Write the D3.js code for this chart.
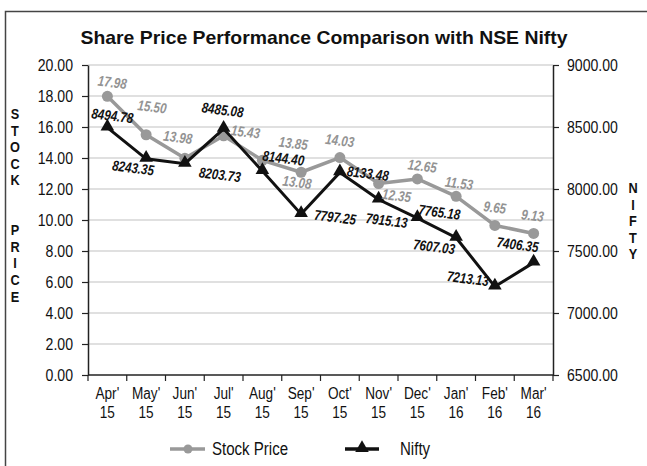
<!DOCTYPE html>
<html>
<head>
<meta charset="utf-8">
<script src="https://cdn.jsdelivr.net/npm/d3@7"></script>
<style>
  body { margin: 0; background: #fff; }
  svg { display: block; }
  text { font-family: "Liberation Sans", Arial, sans-serif; }
</style>
</head>
<body>
<div id="chart"></div>
<script>
// data
var months = ["Apr' 15", "May' 15", "Jun' 15", "Jul' 15", "Aug' 15", "Sep' 15",
              "Oct' 15", "Nov' 15", "Dec' 15", "Jan' 16", "Feb' 16", "Mar' 16"];
var stockPrice = [17.98, 15.50, 13.98, 15.43, 13.85, 13.08, 14.03, 12.35, 12.65, 11.53, 9.65, 9.13];
var nifty = [8494.78, 8243.35, 8203.73, 8485.08, 8144.40, 7797.25, 8133.48, 7915.13, 7765.18, 7607.03, 7213.13, 7406.35];
var leftTicks = [0, 2, 4, 6, 8, 10, 12, 14, 16, 18, 20];
var rightTicks = [6500, 7000, 7500, 8000, 8500, 9000];

// where each data label sits relative to its point (placed by hand, like in excel)
var stockLabelOffset = [[5,-14],[6,-28],[-7,-21],[22,-4],[31,-17],[-4,10],[0,-17],[18,12],[5,-13],[3,-13],[0,-18],[-1,-18]];
var niftyLabelOffset = [[5,-12],[-13,9],[35,11],[-1,-19],[21,-13],[34,3],[28,1],[8,21],[22,-6],[-22,9],[-27,-8],[-16,-18]];

function drawChart() {
    var width = 647, height = 466;
    var pLeft = 88, pRight = 553, pTop = 65, pBottom = 375;
    var gray = "#999999";

    // the reference font is a condensed grotesque, squeeze liberation sans a bit
    function condense(sel, k) {
        sel.each(function () {
            var w = this.getComputedTextLength();
            d3.select(this).attr("textLength", w * k).attr("lengthAdjust", "spacingAndGlyphs");
        });
    }

    var svg = d3.select("#chart").append("svg")
        .attr("width", width)
        .attr("height", height);

    // outer frame (runs off the right and bottom edge)
    svg.append("path")
        .attr("d", "M5.5," + height + "V11.5H" + width)
        .attr("fill", "none")
        .attr("stroke", "#444")
        .attr("stroke-width", 1.5);

    svg.append("text")
        .attr("x", 324)
        .attr("y", 44)
        .attr("text-anchor", "middle")
        .style("font-weight", "bold")
        .style("font-size", "19px")
        .attr("fill", "#111")
        .attr("textLength", 487)
        .attr("lengthAdjust", "spacingAndGlyphs")
        .text("Share Price Performance Comparison with NSE Nifty");

    var x = d3.scaleBand().domain(months).range([pLeft, pRight]);
    var yL = d3.scaleLinear().domain([0, 20]).range([pBottom, pTop]);
    var yR = d3.scaleLinear().domain([6500, 9000]).range([pBottom, pTop]);

    // gridlines
    svg.append("g")
        .selectAll("line")
        .data(leftTicks.slice(1))
        .enter()
        .append("line")
        .attr("x1", pLeft)
        .attr("x2", pRight)
        .attr("y1", function (d) { return yL(d); })
        .attr("y2", function (d) { return yL(d); })
        .attr("stroke", "#d6d6d6")
        .attr("stroke-width", 1.5);

    var leftAxis = svg.append("g")
        .attr("transform", "translate(" + pLeft + ",0)")
        .call(d3.axisLeft(yL).tickValues(leftTicks).tickFormat(d3.format(".2f")).tickSize(6).tickSizeOuter(0).tickPadding(9));

    var rightAxis = svg.append("g")
        .attr("transform", "translate(" + pRight + ",0)")
        .call(d3.axisRight(yR).tickValues(rightTicks).tickFormat(d3.format(".2f")).tickSize(6).tickSizeOuter(0).tickPadding(8));

    [leftAxis, rightAxis].forEach(function (a) {
        a.select(".domain").attr("stroke", "#222").attr("stroke-width", 1.5);
        a.selectAll(".tick line").attr("stroke", "#222").attr("stroke-width", 1.2);
        a.selectAll(".tick text")
            .style("font-size", "16px")
            .style("font-family", "'Liberation Sans', sans-serif")
            .attr("fill", "#111")
            .call(condense, 0.88);
    });

    // category axis: ticks between categories, two line labels
    var xAxis = svg.append("g").attr("transform", "translate(0," + pBottom + ")");
    xAxis.append("line")
        .attr("x1", pLeft).attr("x2", pRight)
        .attr("stroke", "#222").attr("stroke-width", 1.5);
    xAxis.selectAll(".bt")
        .data(months.concat([null]))
        .enter()
        .append("line")
        .attr("class", "bt")
        .attr("x1", function (d) { return d ? x(d) : pRight; })
        .attr("x2", function (d) { return d ? x(d) : pRight; })
        .attr("y1", 0).attr("y2", 6)
        .attr("stroke", "#222").attr("stroke-width", 1.2);
    [0, 1].forEach(function (line) {
        xAxis.selectAll(".xl" + line)
            .data(months)
            .enter()
            .append("text")
            .attr("class", "xl" + line)
            .attr("x", function (d) { return x(d) + x.bandwidth() / 2; })
            .attr("y", line ? 43 : 24)
            .attr("text-anchor", "middle")
            .attr("fill", "#111")
            .style("font-size", "16px")
            .text(function (d) { return d.split(" ")[line]; })
            .call(condense, 0.85);
    });

    // stacked axis titles
    function stackedTitle(str, cx, y0) {
        svg.append("g").selectAll("text")
            .data(str.split(""))
            .enter()
            .append("text")
            .attr("x", cx)
            .attr("y", function (d, i) { return y0 + i * 16.6; })
            .attr("text-anchor", "middle")
            .style("font-weight", "bold")
            .style("font-size", "15.5px")
            .attr("fill", "#111")
            .text(function (d) { return d; })
            .call(condense, 0.82);
    }
    stackedTitle("STOCK  PRICE", 15, 119);
    stackedTitle("NIFTY", 633, 193);

    var cx = function (i) { return x(months[i]) + x.bandwidth() / 2; };

    // stock price series
    svg.append("path")
        .datum(stockPrice)
        .attr("fill", "none")
        .attr("stroke", gray)
        .attr("stroke-width", 3.5)
        .attr("stroke-linejoin", "round")
        .attr("d", d3.line().x(function (d, i) { return cx(i); }).y(function (d) { return yL(d); }));
    svg.append("g").selectAll("circle")
        .data(stockPrice)
        .enter()
        .append("circle")
        .attr("cx", function (d, i) { return cx(i); })
        .attr("cy", function (d) { return yL(d); })
        .attr("r", 5.5)
        .attr("fill", gray);

    // nifty series
    svg.append("path")
        .datum(nifty)
        .attr("fill", "none")
        .attr("stroke", "#111")
        .attr("stroke-width", 3)
        .attr("stroke-linejoin", "miter")
        .attr("d", d3.line().x(function (d, i) { return cx(i); }).y(function (d) { return yR(d); }));
    var tri = d3.symbol().type(d3.symbolTriangle).size(80);
    svg.append("g").selectAll("path")
        .data(nifty)
        .enter()
        .append("path")
        .attr("d", tri)
        .attr("transform", function (d, i) { return "translate(" + cx(i) + "," + (yR(d) - 1) + ")"; })
        .attr("fill", "#111");

    // data labels
    function dataLabels(values, scale, offsets, color) {
        svg.append("g").selectAll("text")
            .data(values)
            .enter()
            .append("text")
            .attr("transform", function (d, i) {
                return "translate(" + (cx(i) + offsets[i][0]) + "," + (scale(d) + offsets[i][1]) + ") rotate(7)";
            })
            .attr("text-anchor", "middle")
            .attr("dy", "0.35em")
            .style("font-size", "14.5px")
            .style("font-weight", "bold")
            .style("font-style", "italic")
            .attr("fill", color)
            .text(function (d) { return d.toFixed(2); })
            .call(condense, 0.8);
    }
    dataLabels(stockPrice, yL, stockLabelOffset, "#939393");
    dataLabels(nifty, yR, niftyLabelOffset, "#111");

    // legend
    var legend = svg.append("g").attr("transform", "translate(0,449)");
    legend.append("line").attr("x1", 170).attr("x2", 205).attr("stroke", gray).attr("stroke-width", 3.5);
    legend.append("circle").attr("cx", 188).attr("r", 4.5).attr("fill", gray);
    legend.append("text").attr("x", 212).attr("dy", "0.35em").style("font-size", "17.5px").attr("fill", "#111")
        .text("Stock Price").call(condense, 0.86);
    legend.append("line").attr("x1", 345).attr("x2", 379).attr("stroke", "#111").attr("stroke-width", 3.5);
    legend.append("path").attr("d", tri).attr("transform", "translate(362,-1)").attr("fill", "#111");
    legend.append("text").attr("x", 400).attr("dy", "0.35em").style("font-size", "17.5px").attr("fill", "#111")
        .text("Nifty").call(condense, 0.86);
}

drawChart();
</script>
</body>
</html>
